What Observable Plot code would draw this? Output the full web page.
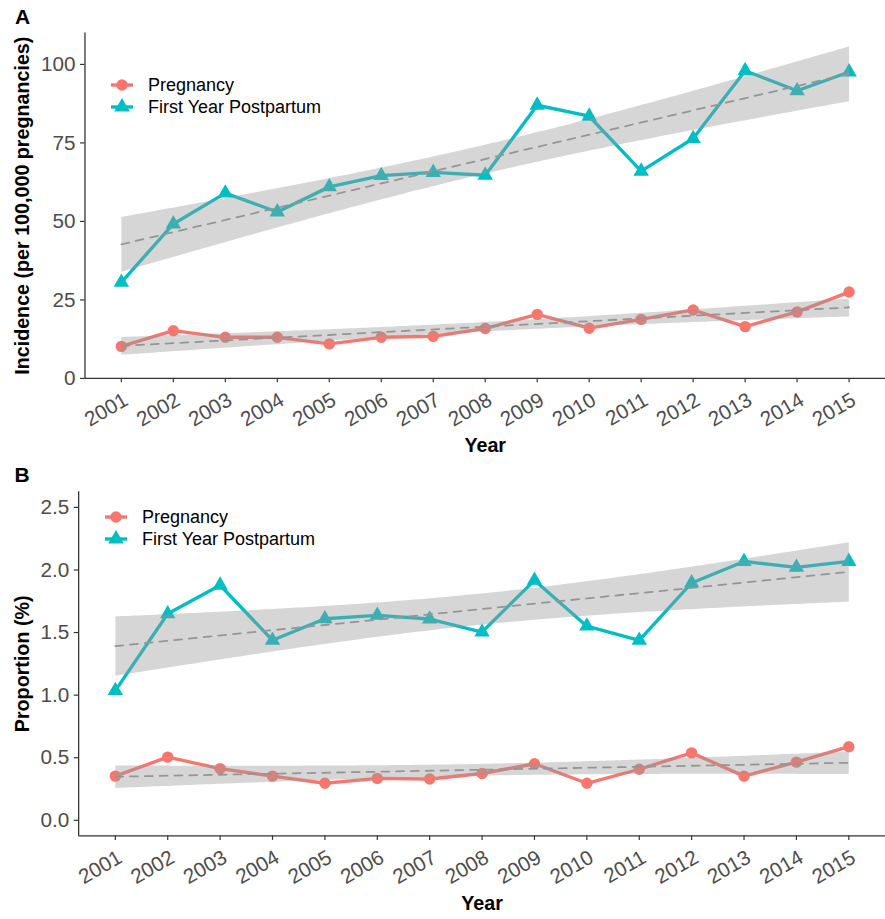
<!DOCTYPE html>
<html>
<head>
<meta charset="utf-8">
<script src="https://cdn.jsdelivr.net/npm/d3@7"></script>
<script src="https://cdn.jsdelivr.net/npm/@observablehq/plot@0.6"></script>
<style>
  html, body { margin: 0; padding: 0; background: #ffffff; }
  #root { position: relative; width: 885px; height: 919px; overflow: hidden; font-family: "Liberation Sans", Arial, sans-serif; background: #fff; }
  .panel { position: absolute; left: 0; }
  .tag { position: absolute; font-weight: bold; font-size: 21px; line-height: 21px; color: #000; }
  .lg-text { position: absolute; font-size: 18px; line-height: 22px; height: 22px; color: #000; white-space: nowrap; }
  .lg-key { position: absolute; }
</style>
</head>
<body>
<div id="root"></div>
<script>
// ---------- data ----------
const years = [2001, 2002, 2003, 2004, 2005, 2006, 2007, 2008, 2009, 2010, 2011, 2012, 2013, 2014, 2015];
const seriesNames = ["Pregnancy", "First Year Postpartum"];
const seriesColors = ["#F8766D", "#00BFC4"];
const seriesSymbols = ["circle", "triangle"];

// Panel A: incidence per 100,000 pregnancies
const incidencePregnancy  = [10.2, 15.2, 13.1, 13.1, 11.0, 13.1, 13.4, 15.9, 20.4, 16.0, 18.8, 21.8, 16.5, 21.2, 27.5];
const incidencePostpartum = [30.6, 49.2, 59.0, 53.0, 61.0, 64.6, 65.6, 64.7, 87.0, 83.5, 66.0, 76.4, 98.0, 91.6, 97.6];
const incidenceTicks = [0, 25, 50, 75, 100];

// Panel B: proportion (%)
const proportionPregnancy  = [0.353, 0.505, 0.413, 0.353, 0.296, 0.335, 0.330, 0.374, 0.452, 0.296, 0.408, 0.539, 0.353, 0.465, 0.588];
const proportionPostpartum = [1.036, 1.650, 1.878, 1.438, 1.610, 1.637, 1.608, 1.504, 1.917, 1.551, 1.438, 1.896, 2.068, 2.021, 2.068];
const proportionTicks = [0, 0.5, 1.0, 1.5, 2.0, 2.5];

const xDomain = [2000.3, 2015.7];
const incidenceDomain = [0, 110];
const proportionDomain = [-0.125, 2.625];

// ---------- drawing ----------
const FONT = "'Liberation Sans', Arial, sans-serif";
const TICK_FONT = 21;
const root = document.getElementById("root");

function makePanel(cfg) {
  const data = years.flatMap((year, i) => [
    {year, value: cfg.preg[i], series: seriesNames[0]},
    {year, value: cfg.post[i], series: seriesNames[1]}
  ]);
  return Plot.plot({
    width: 898,
    height: cfg.height,
    marginTop: cfg.marginTop,
    marginBottom: cfg.marginBottom,
    marginLeft: cfg.marginLeft,
    marginRight: 0,
    style: {fontFamily: FONT, fontSize: TICK_FONT + "px", color: "#333333", background: "transparent", overflow: "visible"},
    x: {domain: xDomain},
    y: {domain: cfg.yDomain},
    color: {domain: seriesNames, range: seriesColors},
    symbol: {domain: seriesNames, range: seriesSymbols},
    marks: [
      Plot.axisY({ticks: cfg.yTicks, tickFormat: cfg.yFormat, tickSize: 4.5, tickPadding: 5,
                  stroke: "#333333", strokeWidth: 1.2, fill: "#4D4D4D", fontSize: TICK_FONT, label: null}),
      Plot.axisX({ticks: years, tickSize: 4.5, tickFormat: () => "", stroke: "#333333", strokeWidth: 1.2, label: null}),
      Plot.ruleX([xDomain[0]], {stroke: "#333333", strokeWidth: 1.3}),
      Plot.ruleY([cfg.yDomain[0]], {stroke: "#333333", strokeWidth: 1.3}),
      Plot.text(years, {x: d => d, text: d => String(d), frameAnchor: "bottom", dx: 5, dy: 20, rotate: -30,
                        textAnchor: "end", lineAnchor: "middle", fill: "#4D4D4D", fontSize: TICK_FONT}),
      Plot.line(data, {x: "year", y: "value", z: "series", stroke: "series", strokeWidth: 3.4}),
      Plot.dot(data, {x: "year", y: "value", fill: "series", symbol: "series", r: 5.8}),
      Plot.linearRegressionY(data, {x: "year", y: "value", z: "series", ci: 0.95,
                  stroke: "#959595", strokeWidth: 1.8, strokeDasharray: "8,7", fill: "#999999", fillOpacity: 0.4}),
      Plot.text([cfg.yLabel], {frameAnchor: "left", rotate: -90, dx: cfg.yLabelDx, textAnchor: "middle",
                  lineAnchor: "top", fontWeight: "bold", fontSize: 20, fill: "#000000"}),
      Plot.text(["Year"], {frameAnchor: "bottom", dy: cfg.xLabelDy, textAnchor: "middle",
                  lineAnchor: "bottom", fontWeight: "bold", fontSize: 20, fill: "#000000"})
    ]
  });
}

function addPanel(top, cfg) {
  const div = document.createElement("div");
  div.className = "panel";
  div.style.top = top + "px";
  div.appendChild(makePanel(cfg));
  root.appendChild(div);
}

function addTag(text, left, top) {
  const d = document.createElement("div");
  d.className = "tag";
  d.style.left = left + "px";
  d.style.top = top + "px";
  d.textContent = text;
  root.appendChild(d);
}

function addLegend(keyX, keyY0, textX, gap) {
  seriesNames.forEach((name, i) => {
    const cy = keyY0 + i * gap;
    const svg = d3.create("svg").attr("class", "lg-key")
      .attr("width", 26).attr("height", 22)
      .style("left", (keyX - 13) + "px").style("top", (cy - 11) + "px");
    svg.append("line").attr("x1", 2).attr("x2", 24).attr("y1", 11).attr("y2", 11)
      .attr("stroke", seriesColors[i]).attr("stroke-width", 3.4);
    const r = 5.8;
    const sym = seriesSymbols[i] === "circle" ? d3.symbolCircle : d3.symbolTriangle;
    svg.append("path").attr("transform", "translate(13,11)")
      .attr("d", d3.symbol(sym, r * r * Math.PI)()).attr("fill", seriesColors[i]);
    root.appendChild(svg.node());
    const t = document.createElement("div");
    t.className = "lg-text";
    t.style.left = textX + "px";
    t.style.top = (cy - 11) + "px";
    t.textContent = name;
    root.appendChild(t);
  });
}

addPanel(0, {
  preg: incidencePregnancy, post: incidencePostpartum,
  yDomain: incidenceDomain, yTicks: incidenceTicks, yFormat: d => String(d),
  yLabel: "Incidence (per 100,000 pregnancies)",
  height: 460, marginTop: 33, marginBottom: 76.5, marginLeft: 85.7,
  yLabelDx: -70.7, xLabelDy: 74.5
});

addPanel(460, {
  preg: proportionPregnancy, post: proportionPostpartum,
  yDomain: proportionDomain, yTicks: proportionTicks, yFormat: d => d.toFixed(1),
  yLabel: "Proportion (%)",
  height: 459, marginTop: 31.7, marginBottom: 78, marginLeft: 79.3,
  yLabelDx: -64.3, xLabelDy: 75
});

addTag("A", 15, 6.2);
addTag("B", 14.6, 464);
addLegend(121.7, 85, 148, 21.7);
addLegend(116, 516.7, 142, 22.3);
</script>
</body>
</html>
